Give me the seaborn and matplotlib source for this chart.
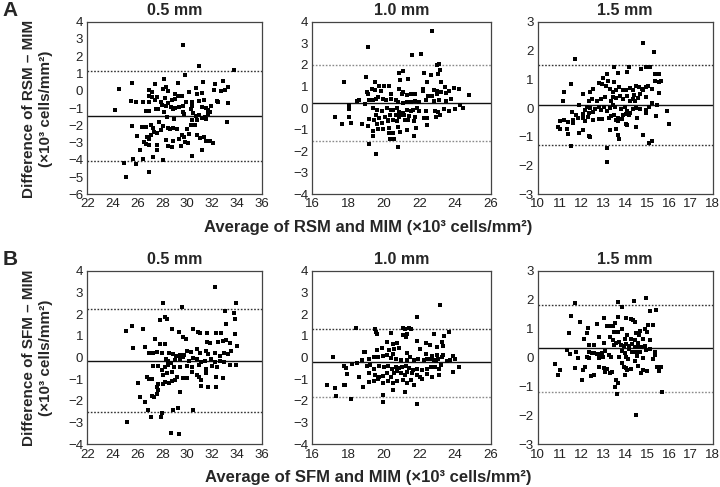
import matplotlib
matplotlib.use("Agg")
import matplotlib.pyplot as plt
import seaborn as sns
import pandas as pd

# ---------------- data (average, difference) ----------------
a1_pts = [
    (29.66, 2.65), (30.94, 1.43), (33.79, 1.18), (29.82, 0.89), (28.16, 0.70), (25.58, 0.47),
    (29.23, 0.47), (31.28, 0.53), (32.86, 0.58), (32.27, 0.37), (27.42, 0.39), (28.30, 0.24),
    (33.31, 0.20), (30.67, 0.18), (24.51, 0.10), (26.94, 0.04), (27.15, -0.05), (28.08, 0.10),
    (28.43, -0.02), (29.02, -0.19), (29.28, -0.29), (29.60, -0.32), (30.16, -0.05), (30.75, -0.19),
    (31.20, -0.11), (32.14, 0.04), (32.70, 0.00), (33.04, 0.04), (26.96, -0.30), (27.18, -0.38),
    (27.60, -0.34), (28.22, -0.44), (28.75, -0.54), (29.02, -0.48), (25.47, -0.59), (25.90, -0.65),
    (26.43, -0.63), (26.94, -0.67), (27.44, -0.54), (27.87, -0.63), (28.48, -0.69), (29.92, -0.67),
    (30.38, -0.63), (30.94, -0.59), (31.34, -0.56), (32.38, -0.58), (33.28, -0.69), (32.48, -0.65),
    (27.98, -0.85), (28.30, -0.86), (28.67, -0.92), (29.02, -1.02), (29.31, -0.96), (29.63, -0.88),
    (30.38, -0.88), (31.18, -0.96), (31.50, -1.02), (31.90, -0.88), (31.68, -1.12), (27.50, -1.08),
    (26.67, -1.15), (26.91, -1.15), (27.68, -1.08), (24.22, -1.12), (28.16, -1.21), (28.83, -1.08),
    (29.68, -1.21), (30.27, -1.08), (29.76, -1.35), (30.48, -1.31), (30.67, -1.48), (30.91, -1.41),
    (31.20, -1.56), (31.47, -1.50), (31.66, -1.37), (31.87, -1.21), (30.35, -1.70), (30.75, -1.70),
    (31.50, -1.66), (28.94, -1.62), (33.18, -1.79), (28.35, -1.50), (25.60, -2.02), (26.35, -2.10),
    (27.12, -2.00), (27.76, -1.79), (28.03, -2.04), (28.46, -2.18), (28.62, -2.24), (28.83, -2.14),
    (29.20, -2.20), (29.95, -2.20), (30.27, -1.98), (30.62, -1.98), (27.28, -2.18), (26.67, -2.12),
    (27.92, -2.27), (26.00, -2.62), (26.80, -2.66), (27.10, -2.56), (27.31, -2.41), (27.55, -2.47),
    (29.55, -2.56), (29.76, -2.70), (30.16, -2.51), (30.80, -2.56), (31.02, -2.76), (31.36, -2.66),
    (31.50, -2.89), (31.82, -2.89), (32.06, -3.01), (26.96, -2.82), (28.30, -2.85), (28.88, -2.89),
    (29.31, -2.82), (26.51, -2.97), (26.67, -3.09), (26.94, -3.14), (27.55, -3.14), (28.48, -3.20),
    (28.75, -3.24), (29.50, -3.20), (30.06, -3.05), (26.22, -3.41), (27.55, -3.43), (31.20, -3.45),
    (29.82, -2.95), (25.63, -3.94), (25.90, -4.26), (26.43, -3.94), (27.28, -3.82), (28.08, -4.01),
    (30.40, -3.80), (24.94, -4.17), (26.96, -4.69), (25.10, -5.02),
]
a2_pts = [
    (22.70, 3.58), (19.13, 2.85), (21.57, 2.46), (22.09, 2.52), (17.78, 1.22), (19.01, 1.43),
    (20.87, 1.62), (21.10, 1.71), (21.35, 1.35), (20.91, 1.28), (22.26, 1.62), (22.63, 1.54),
    (22.97, 1.98), (23.08, 2.05), (23.15, 1.74), (23.06, 1.58), (22.45, 1.20), (23.20, 1.20),
    (22.22, 0.89), (22.19, 0.78), (22.84, 0.85), (23.00, 0.77), (23.20, 0.74), (23.41, 0.97),
    (23.64, 0.77), (23.94, 0.94), (24.23, 0.89), (24.76, 0.60), (19.52, 1.20), (19.75, 1.03),
    (20.02, 1.03), (20.32, 1.02), (19.33, 0.89), (19.04, 0.74), (19.13, 0.63), (19.52, 0.82),
    (19.83, 0.77), (20.43, 0.66), (20.87, 0.89), (21.01, 0.66), (21.10, 0.74), (21.32, 0.62),
    (21.51, 0.63), (21.76, 0.66), (22.50, 0.58), (22.69, 0.58), (22.97, 0.66), (23.49, 0.69),
    (18.49, 0.31), (18.63, 0.38), (18.95, 0.17), (19.20, 0.35), (19.38, 0.38), (19.57, 0.40),
    (19.70, 0.51), (19.95, 0.40), (20.13, 0.38), (20.39, 0.40), (20.69, 0.38), (20.82, 0.28),
    (21.07, 0.25), (21.28, 0.28), (21.51, 0.26), (21.76, 0.31), (21.99, 0.28), (22.37, 0.35),
    (22.82, 0.32), (23.11, 0.38), (23.49, 0.31), (23.75, 0.42), (18.04, 0.12), (18.06, -0.03),
    (19.42, 0.02), (19.64, -0.08), (19.89, -0.14), (20.16, 0.02), (20.41, -0.08), (20.54, -0.11),
    (20.76, 0.00), (20.87, -0.19), (21.07, -0.23), (21.32, -0.11), (21.53, -0.14), (21.66, -0.11),
    (21.88, 0.02), (21.99, -0.14), (22.37, -0.14), (22.88, -0.14), (23.06, -0.19), (23.38, -0.03),
    (23.68, -0.14), (24.00, -0.03), (24.27, 0.12), (24.46, 0.00), (17.29, -0.42), (18.04, -0.42),
    (19.20, -0.49), (19.57, -0.34), (19.75, -0.45), (20.07, -0.42), (20.35, -0.34), (20.66, -0.34),
    (20.84, -0.42), (21.14, -0.31), (21.44, -0.39), (21.76, -0.42), (22.26, -0.45), (22.45, -0.45),
    (22.93, -0.42), (23.15, -0.34), (20.91, -0.31), (20.22, -0.54), (17.66, -0.74), (18.15, -0.69),
    (18.77, -0.75), (19.13, -0.82), (19.45, -0.54), (19.64, -0.72), (19.89, -0.68), (20.26, -0.62),
    (20.54, -0.57), (20.76, -0.62), (21.19, -0.57), (21.38, -0.54), (21.72, -0.62), (22.45, -0.80),
    (19.70, -0.95), (19.98, -0.97), (20.32, -0.91), (20.80, -0.88), (21.32, -1.00), (21.79, -0.91),
    (19.38, -1.08), (19.42, -1.29), (20.28, -1.15), (20.54, -1.15), (20.91, -1.12), (21.67, -1.31),
    (20.35, -1.43), (20.57, -1.42), (19.20, -1.68), (20.82, -1.82), (19.57, -2.14),
]
a3_pts = [
    (14.82, 2.26), (15.33, 1.96), (11.72, 1.72), (13.48, 1.44), (14.17, 1.44), (14.74, 1.34),
    (14.93, 1.44), (15.15, 1.42), (13.19, 1.19), (13.68, 1.21), (14.07, 1.24), (15.38, 1.19),
    (12.97, 1.03), (13.22, 0.95), (13.51, 0.90), (12.82, 0.86), (12.94, 0.82), (11.51, 0.84),
    (11.19, 0.56), (12.06, 0.47), (12.39, 0.55), (12.55, 0.67), (13.12, 0.75), (13.30, 0.67),
    (13.45, 0.57), (13.60, 0.64), (13.72, 0.72), (13.90, 0.61), (14.05, 0.61), (14.20, 0.70),
    (14.37, 0.63), (14.50, 0.78), (14.62, 0.72), (14.77, 0.67), (14.93, 0.72), (15.05, 0.78),
    (15.23, 0.67), (15.35, 0.93), (15.53, 0.90), (15.65, 0.93), (15.56, 0.51), (14.40, 0.46),
    (14.47, 0.26), (14.59, 0.35), (14.70, 0.49), (14.80, 0.61), (11.14, 0.24), (12.36, 0.24),
    (12.48, 0.32), (12.70, 0.26), (12.89, 0.32), (13.09, 0.38), (13.33, 0.26), (13.45, 0.40),
    (13.60, 0.34), (13.75, 0.42), (13.90, 0.32), (14.08, 0.43), (14.20, 0.26), (14.35, 0.32),
    (14.96, 0.38), (15.23, 0.19), (15.45, 0.12), (11.91, 0.09), (12.18, -0.06), (12.24, 0.05),
    (12.39, 0.01), (12.52, -0.14), (12.64, -0.04), (12.79, 0.05), (12.91, -0.06), (13.04, 0.03),
    (13.19, -0.09), (13.31, 0.01), (13.45, 0.09), (13.54, 0.03), (13.80, -0.03), (13.99, 0.05),
    (14.10, -0.09), (14.20, -0.18), (14.35, -0.03), (14.50, 0.01), (14.70, -0.03), (14.93, -0.06),
    (15.11, 0.05), (11.58, -0.14), (11.73, -0.26), (12.09, -0.20), (12.29, -0.32), (12.82, -0.38),
    (13.24, -0.34), (13.34, -0.29), (13.48, -0.26), (13.69, -0.34), (13.90, -0.23), (14.05, -0.20),
    (14.17, -0.26), (14.55, -0.34), (14.96, -0.18), (15.41, -0.29), (11.01, -0.46), (11.19, -0.43),
    (11.38, -0.49), (10.93, -0.66), (11.01, -0.72), (11.34, -0.72), (11.60, -0.43), (11.61, -0.53),
    (11.84, -0.34), (12.06, -0.34), (12.17, -0.46), (12.55, -0.43), (12.94, -0.39), (12.33, -0.18),
    (13.57, -0.43), (13.69, -0.46), (14.05, -0.55), (14.50, -0.66), (13.84, -0.38), (11.38, -0.92),
    (11.91, -0.87), (12.09, -0.78), (12.33, -0.99), (12.39, -1.01), (13.30, -0.75), (13.60, -0.73),
    (13.68, -0.95), (13.72, -1.07), (14.07, -0.58), (14.83, -0.95), (15.08, -1.22), (15.23, -1.15),
    (11.51, -1.31), (13.16, -1.38), (13.16, -1.86), (15.90, -0.09), (16.02, -0.57), (15.53, 1.19),
]
b1_pts = [
    (32.22, 3.26), (28.08, 2.53), (29.55, 2.31), (33.95, 2.50), (33.04, 2.16), (33.76, 2.07),
    (27.82, 1.73), (28.22, 1.85), (28.35, 1.76), (25.10, 1.24), (25.55, 1.45), (26.48, 1.30),
    (33.82, 1.76), (33.10, 1.54), (28.75, 1.30), (29.36, 1.19), (30.48, 1.30), (30.88, 1.19),
    (31.07, 1.14), (31.60, 1.11), (32.30, 1.14), (32.75, 1.11), (33.82, 1.08), (27.42, 0.84),
    (27.82, 0.62), (28.22, 0.62), (29.68, 0.96), (29.90, 0.84), (31.60, 0.73), (31.82, 0.65),
    (32.48, 0.73), (32.88, 0.78), (33.10, 0.81), (33.42, 0.65), (34.00, 0.53), (25.63, 0.42),
    (26.62, 0.50), (26.96, 0.19), (27.28, 0.22), (27.55, 0.27), (27.95, 0.22), (28.56, 0.19),
    (28.83, 0.15), (29.10, 0.07), (29.42, 0.12), (29.74, 0.12), (29.95, 0.31), (30.30, 0.27),
    (30.75, 0.38), (31.02, 0.22), (31.50, 0.31), (31.68, 0.16), (32.22, 0.19), (32.62, 0.07),
    (32.94, 0.22), (33.28, 0.16), (33.55, 0.31), (28.30, -0.08), (28.48, -0.15), (28.67, -0.24),
    (29.02, -0.12), (29.42, -0.08), (29.63, 0.01), (30.16, -0.15), (30.48, -0.04), (30.80, -0.08),
    (31.15, -0.19), (31.42, -0.15), (31.95, -0.08), (32.22, -0.19), (32.62, -0.15), (32.94, -0.19),
    (33.42, -0.35), (33.90, -0.35), (27.28, -0.39), (27.68, -0.39), (27.95, -0.58), (28.22, -0.45),
    (28.48, -0.35), (28.94, -0.45), (29.42, -0.42), (29.95, -0.39), (30.35, -0.45), (30.96, -0.35),
    (31.50, -0.55), (32.03, -0.39), (32.40, -0.42), (28.03, -0.81), (28.35, -0.73), (28.75, -0.67),
    (29.20, -0.88), (29.68, -0.96), (29.95, -0.96), (30.35, -0.65), (30.75, -0.81), (30.96, -0.91),
    (31.15, -1.04), (31.55, -0.70), (32.35, -0.88), (32.88, -0.96), (26.03, -1.19), (26.75, -0.91),
    (26.96, -1.01), (27.15, -1.01), (27.68, -1.22), (28.03, -1.22), (28.24, -1.11), (28.56, -1.19),
    (28.75, -1.07), (29.02, -1.04), (31.15, -1.31), (31.68, -1.34), (32.35, -1.34), (27.60, -1.37),
    (27.68, -1.50), (26.22, -1.84), (26.62, -2.03), (27.15, -1.77), (27.34, -1.84), (27.55, -1.68),
    (29.42, -1.57), (26.83, -2.42), (27.95, -2.57), (28.83, -2.42), (29.23, -2.34), (30.43, -2.42),
    (27.07, -2.76), (27.87, -2.73), (25.15, -2.96), (28.70, -3.46), (29.36, -3.54),
]
b2_pts = [
    (23.15, 2.42), (21.85, 1.85), (18.42, 1.34), (19.52, 1.30), (19.57, 1.19), (19.64, 1.08),
    (20.39, 1.14), (21.10, 1.37), (21.19, 1.30), (21.44, 1.34), (21.51, 1.30), (21.07, 1.04),
    (21.32, 1.08), (21.25, 0.96), (22.82, 1.08), (23.38, 0.99), (23.68, 1.19), (21.88, 0.78),
    (23.25, 0.73), (23.31, 0.53), (22.37, 0.68), (22.60, 0.58), (23.00, 0.50), (20.16, 0.73),
    (20.50, 0.62), (20.76, 0.68), (19.89, 0.42), (19.61, 0.35), (18.90, 0.27), (18.97, 0.27),
    (20.32, 0.35), (20.57, 0.38), (20.87, 0.42), (21.28, 0.22), (22.03, 0.38), (22.37, 0.16),
    (22.69, 0.07), (23.00, 0.12), (23.25, 0.01), (23.34, 0.12), (23.86, 0.07), (17.18, 0.01),
    (18.77, -0.12), (19.20, -0.08), (19.45, 0.01), (19.70, 0.04), (19.95, 0.07), (20.16, 0.12),
    (20.39, -0.04), (20.50, 0.16), (20.69, -0.08), (20.95, -0.12), (21.28, -0.12), (21.48, 0.01),
    (21.69, -0.12), (21.94, -0.08), (22.26, -0.12), (22.40, -0.08), (22.63, -0.08), (22.82, -0.12),
    (22.93, -0.15), (23.06, -0.08), (23.52, -0.15), (23.71, -0.12), (24.00, -0.08), (18.21, -0.30),
    (18.52, -0.27), (17.78, -0.39), (17.89, -0.50), (19.04, -0.39), (19.24, -0.35), (19.45, -0.55),
    (19.75, -0.39), (20.02, -0.45), (20.26, -0.39), (20.45, -0.55), (20.69, -0.42), (20.87, -0.50),
    (21.01, -0.45), (21.25, -0.39), (21.44, -0.50), (21.66, -0.58), (21.88, -0.55), (22.13, -0.58),
    (22.45, -0.55), (22.63, -0.45), (22.88, -0.45), (23.11, -0.55), (23.20, -0.35), (24.23, -0.42),
    (17.92, -0.76), (18.63, -0.91), (19.20, -0.70), (19.52, -0.81), (19.75, -0.91), (19.98, -0.85),
    (20.16, -0.73), (20.39, -0.88), (20.57, -0.70), (20.76, -0.61), (20.95, -0.73), (21.19, -0.82),
    (21.32, -0.65), (21.57, -0.70), (21.85, -0.81), (22.03, -0.88), (22.40, -0.76), (22.69, -0.91),
    (23.11, -0.81), (23.86, -0.65), (16.84, -1.28), (17.27, -1.42), (17.78, -1.27), (17.85, -1.25),
    (18.83, -1.37), (19.18, -1.11), (19.45, -1.07), (19.70, -0.98), (19.95, -1.19), (20.26, -1.07),
    (20.50, -1.19), (20.76, -1.07), (21.07, -1.04), (21.32, -1.16), (21.51, -1.04), (21.69, -1.27),
    (22.13, -1.01), (20.50, -1.50), (21.19, -1.57), (19.98, -1.73), (19.98, -2.03), (17.33, -1.79),
    (18.17, -1.91), (21.85, -2.14),
]
b3_pts = [
    (14.96, 2.04), (11.69, 1.87), (13.69, 1.91), (13.84, 1.73), (14.40, 1.95), (15.12, 1.62),
    (15.42, 1.64), (11.54, 1.43), (13.01, 1.35), (11.94, 1.21), (13.68, 1.41), (14.05, 1.35),
    (14.25, 1.32), (14.35, 1.30), (14.47, 1.21), (11.43, 0.83), (12.30, 1.01), (12.70, 1.15),
    (13.15, 1.09), (13.30, 1.09), (13.45, 1.09), (13.54, 1.20), (13.84, 0.97), (15.05, 1.12),
    (15.27, 1.12), (14.90, 0.97), (15.00, 0.89), (14.70, 0.93), (14.50, 0.86), (14.62, 0.78),
    (14.10, 0.78), (13.51, 0.89), (13.60, 0.89), (13.69, 0.89), (12.24, 0.83), (12.14, 0.63),
    (12.82, 0.72), (13.30, 0.72), (13.45, 0.60), (13.72, 0.55), (13.99, 0.63), (14.25, 0.63),
    (14.44, 0.60), (14.59, 0.49), (14.80, 0.63), (15.15, 0.60), (13.04, 0.49), (12.36, 0.43),
    (12.59, 0.43), (13.51, 0.43), (13.60, 0.49), (13.80, 0.43), (13.95, 0.40), (14.05, 0.47),
    (14.17, 0.40), (14.32, 0.47), (14.43, 0.37), (14.55, 0.35), (14.74, 0.35), (14.90, 0.40),
    (11.34, 0.26), (11.46, 0.12), (11.76, 0.20), (12.33, 0.20), (12.47, 0.17), (12.59, 0.14),
    (12.70, 0.12), (12.82, 0.12), (12.94, 0.17), (13.09, 0.22), (13.28, 0.09), (13.87, 0.24),
    (13.99, 0.17), (14.17, 0.28), (14.32, 0.20), (14.50, 0.20), (14.70, 0.20), (14.96, 0.26),
    (15.15, 0.28), (15.35, 0.20), (15.38, 0.09), (11.84, -0.03), (12.24, 0.03), (12.36, -0.03),
    (12.82, -0.03), (13.00, 0.03), (13.34, 0.01), (13.72, 0.03), (14.02, 0.01), (14.14, -0.06),
    (14.55, 0.05), (14.80, -0.03), (15.26, -0.06), (10.78, -0.22), (11.01, -0.43), (10.93, -0.61),
    (11.69, -0.37), (12.06, -0.43), (12.18, -0.34), (12.03, -0.78), (12.59, -0.61), (12.44, -0.64),
    (12.79, -0.34), (13.04, -0.37), (13.09, -0.49), (13.19, -0.41), (13.30, -0.55), (13.42, -0.49),
    (13.87, -0.18), (13.95, -0.32), (14.05, -0.37), (14.10, -0.43), (14.25, -0.41), (13.99, -0.61),
    (14.44, -0.11), (14.59, -0.29), (14.74, -0.55), (14.80, -0.43), (15.00, -0.46), (15.45, -0.32),
    (15.65, -0.32), (15.53, -0.46), (13.57, -0.78), (13.69, -0.89), (13.54, -1.03), (13.64, -1.26),
    (14.50, -1.99), (15.68, -1.20),
]

# mean difference and limits of agreement (bias, upper, lower)
a1_lines = [-1.45, 1.17, -4.05]
a2_lines = [0.22, 1.99, -1.55]
a3_lines = [0.11, 1.51, -1.27]
b1_lines = [-0.17, 2.22, -2.53]
b2_lines = [-0.22, 1.33, -1.81]
b3_lines = [0.32, 1.80, -1.20]

titles = ["0.5 mm", "1.0 mm", "1.5 mm"]
x_ticks = [list(range(22, 37, 2)), list(range(16, 27, 2)), list(range(10, 19, 1))]
a_y_ticks = [list(range(-6, 5)), list(range(-4, 5)), list(range(-3, 4))]
b_y_ticks = [list(range(-4, 5)), list(range(-4, 5)), list(range(-3, 4))]

# ---------------- style ----------------
sns.set_theme(style="white")
plt.rcParams["font.family"] = ["Liberation Sans", "DejaVu Sans"]
plt.rcParams["axes.unicode_minus"] = True

fig = plt.figure(figsize=(7.2, 4.87), dpi=100)

lefts = [0.1213, 0.4338, 0.7468]
widths = [0.2426, 0.2479, 0.2430]
rows = [(0.6010, 0.3544), (0.0876, 0.3566)]

DARK = "#333333"
GREY = "#8a8a8a"
panels = [
    (0, 0, a1_pts, a1_lines, a_y_ticks[0], DARK, DARK),
    (0, 1, a2_pts, a2_lines, a_y_ticks[1], GREY, GREY),
    (0, 2, a3_pts, a3_lines, a_y_ticks[2], DARK, DARK),
    (1, 0, b1_pts, b1_lines, b_y_ticks[0], DARK, DARK),
    (1, 1, b2_pts, b2_lines, b_y_ticks[1], DARK, GREY),
    (1, 2, b3_pts, b3_lines, b_y_ticks[2], DARK, GREY),
]

for r, c, pts, lines, yt, ucol, lcol in panels:
    bottom, height = rows[r]
    ax = fig.add_axes([lefts[c], bottom, widths[c], height])
    df = pd.DataFrame(pts, columns=["avg", "diff"])
    sns.scatterplot(data=df, x="avg", y="diff", ax=ax, color="black",
                    marker="s", s=7, linewidth=0, zorder=3)
    bias, upper, lower = lines
    ax.axhline(bias, color="#111111", lw=1.0, zorder=2)
    ax.axhline(upper, color=ucol, lw=1.0, linestyle=(0, (1.2, 1.2)), zorder=2)
    ax.axhline(lower, color=lcol, lw=1.0, linestyle=(0, (1.2, 1.2)), zorder=2)
    xt = x_ticks[c]
    ax.set_xlim(xt[0], xt[-1])
    ax.set_ylim(yt[0], yt[-1])
    ax.set_xticks(xt)
    ax.set_yticks(yt)
    ax.set_xlabel("")
    ax.set_ylabel("")
    ax.set_title(titles[c], fontweight="bold", fontsize=11.5, pad=5)
    for sp in ax.spines.values():
        sp.set_color("#444444")
        sp.set_linewidth(0.9)
    ax.tick_params(axis="both", direction="in", length=2, width=0.8,
                   labelsize=9.5, colors="#222222", pad=3)

# panel letters
fig.text(0.004, 0.997, "A", fontweight="bold", fontsize=15, ha="left", va="top")
fig.text(0.004, 0.487, "B", fontweight="bold", fontsize=15, ha="left", va="top")

# y labels
fig.text(0.0525, 0.776, "Difference of RSM \u2013 MIM\n(\u00d710\u00b3 cells/mm\u00b2)",
         rotation=90, ha="center", va="center", fontweight="bold", fontsize=11,
         multialignment="center", linespacing=1.3)
fig.text(0.0525, 0.266, "Difference of SFM \u2013 MIM\n(\u00d710\u00b3 cells/mm\u00b2)",
         rotation=90, ha="center", va="center", fontweight="bold", fontsize=11,
         multialignment="center", linespacing=1.3)

# x labels
fig.text(0.511, 0.5325, "Average of RSM and MIM (\u00d710\u00b3 cells/mm\u00b2)",
         ha="center", va="center", fontweight="bold", fontsize=12)
fig.text(0.511, 0.019, "Average of SFM and MIM (\u00d710\u00b3 cells/mm\u00b2)",
         ha="center", va="center", fontweight="bold", fontsize=12)

fig.savefig("out.png", dpi=100, facecolor="white")
